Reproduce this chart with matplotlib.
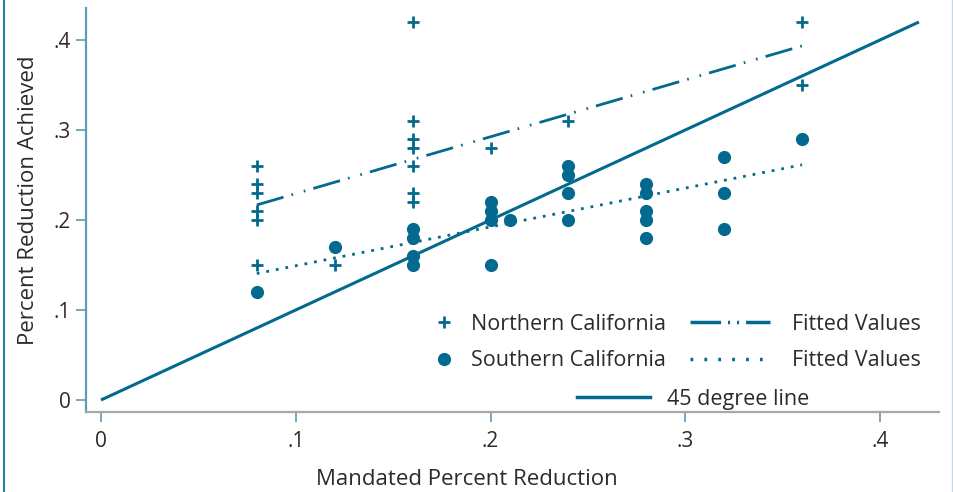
import numpy as np
import matplotlib
matplotlib.use("Agg")
import matplotlib.pyplot as plt
from matplotlib.lines import Line2D

plt.rcParams['font.family'] = ['Open Sans', 'DejaVu Sans']
plt.rcParams['lines.scale_dashes'] = False

# data
north_x = [0.08, 0.08, 0.08, 0.08, 0.08, 0.08, 0.12,
           0.16, 0.16, 0.16, 0.16, 0.16, 0.16, 0.16,
           0.20, 0.24, 0.36, 0.36]
north_y = [0.26, 0.24, 0.23, 0.21, 0.20, 0.15, 0.15,
           0.42, 0.31, 0.29, 0.28, 0.26, 0.23, 0.22,
           0.28, 0.31, 0.42, 0.35]

south_x = [0.08, 0.12, 0.16, 0.16, 0.16, 0.16,
           0.20, 0.20, 0.20, 0.20, 0.21,
           0.24, 0.24, 0.24, 0.24,
           0.28, 0.28, 0.28, 0.28, 0.28,
           0.32, 0.32, 0.32, 0.36]
south_y = [0.12, 0.17, 0.19, 0.18, 0.16, 0.15,
           0.22, 0.21, 0.20, 0.15, 0.20,
           0.26, 0.25, 0.23, 0.20,
           0.24, 0.23, 0.21, 0.20, 0.18,
           0.27, 0.23, 0.19, 0.29]

diag = [0, 0.42]
ticks = [0, 0.1, 0.2, 0.3, 0.4]
tick_labels = ['0', '.1', '.2', '.3', '.4']

blue = '#04698e'
txt = '#2b2b2b'
dash_dot = (0, (20, 6, 1.2, 8, 1.2, 6))
dotted = (0, (2, 5))

fig = plt.figure(figsize=(9.54, 4.92), dpi=100)
ax = fig.add_axes([86/954, 1-412/492, (939-86)/954, (412-8)/492])

# fitted lines
def fit_line(x, y):
    b, a = np.polyfit(x, y, 1)
    xs = np.array([min(x), max(x)])
    return xs, a + b * xs

fx, fy = fit_line(north_x, north_y)
sx, sy = fit_line(south_x, south_y)

ax.plot(diag, diag, color=blue, lw=2.2, solid_capstyle='butt')
ax.plot(fx, fy, color=blue, lw=2, linestyle=dash_dot)
ax.plot(sx, sy, color=blue, lw=2, linestyle=dotted)
ax.plot(north_x, north_y, '+', color=blue, ms=9, mew=2, linestyle='none')
ax.plot(south_x, south_y, 'o', color=blue, ms=9.5, mec='none', linestyle='none')

ax.set_xlim(-(101-86)/1947.5, (939-101)/1947.5)
ax.set_ylim(-12/900, 392/900)
ax.set_xticks(ticks)
ax.set_xticklabels(tick_labels)
ax.set_yticks(ticks)
ax.set_yticklabels(tick_labels)

for s in ['top', 'right']:
    ax.spines[s].set_visible(False)
ax.spines['left'].set_color('#5e9bb8')
ax.spines['bottom'].set_color('#a8a8a8')
ax.spines['left'].set_linewidth(1.6)
ax.spines['bottom'].set_linewidth(1.6)
ax.tick_params(axis='x', length=7, width=1.2, color='#5e9bb8', pad=7,
               labelsize=15, labelcolor=txt)
ax.tick_params(axis='y', length=7, width=1.2, color='#5e9bb8', pad=4,
               labelsize=15, labelcolor=txt)

ax.set_xlabel('Mandated Percent Reduction', fontsize=16, color=txt)
ax.set_ylabel('Percent Reduction Achieved', fontsize=16, color=txt)
ax.xaxis.set_label_coords((467-86)/853, (412-469)/404)
ax.yaxis.set_label_coords((39-86)/853, (412-200)/404)

# legend, in three pieces
h_n = Line2D([], [], marker='+', color=blue, ms=9, mew=2, linestyle='none')
h_s = Line2D([], [], marker='o', color=blue, ms=9.5, mec='none', linestyle='none')
h_nf = Line2D([], [], color=blue, lw=2.5, linestyle=(0, (22, 5, 1.5, 5, 1.5, 5)))
h_sf = Line2D([], [], color=blue, lw=2.5, linestyle=(0, (2, 8)))
h_d = Line2D([], [], color=blue, lw=2.5)

leg_kw = dict(frameon=False, fontsize=15.5, borderpad=0, borderaxespad=0,
              labelspacing=0.7, labelcolor=txt)
lg1 = fig.legend([h_n, h_s], ['Northern California', 'Southern California'],
                 loc='center left', bbox_to_anchor=(434/954, 1-342.5/492),
                 handlelength=0.9, handletextpad=0.8, **leg_kw)
lg2 = fig.legend([h_nf, h_sf], ['Fitted Values', 'Fitted Values'],
                 loc='center left', bbox_to_anchor=(690/954, 1-342.5/492),
                 handlelength=3.7, handletextpad=1.05, **leg_kw)
lg3 = fig.legend([h_d], ['45 degree line'],
                 loc='center left', bbox_to_anchor=(577/954, 1-399/492),
                 handlelength=3.4, handletextpad=0.8, **leg_kw)

# border lines of the graph region
fig.add_artist(Line2D([4/954, 4/954], [0, 1], color='#2b7fa6', lw=1.5))
fig.add_artist(Line2D([952/954, 952/954], [0, 1], color='#c9d9e2', lw=1))

fig.savefig('out.png', dpi=100)
